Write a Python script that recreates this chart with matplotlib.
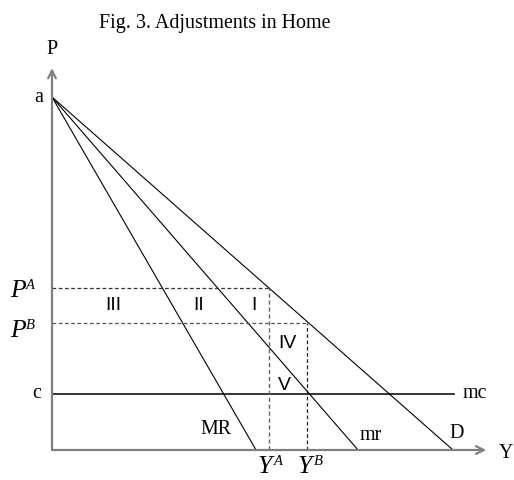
import matplotlib.pyplot as plt

plt.rcParams['font.family'] = 'Liberation Serif'

# valores del diagrama (unidades arbitrarias)
a = 10.0                 # ordenada al origen de la demanda
c = 1.6                  # costo marginal
x_MR, x_mr, x_D = 5.78, 8.67, 11.36   # cortes con el eje Y
P_A, P_B = 4.6, 3.6
Y_A, Y_B = 6.15, 7.22
x_max, y_max = 12.3, 10.82
mc_end = 11.4

escala = 35.3  # pixeles por unidad


def px(x, y):
    # pixeles de la imagen -> coordenadas del grafico
    return (x - 52) / escala, (450 - y) / escala


fig = plt.figure(figsize=(5.14, 4.80), dpi=100)
ax = fig.add_axes([0, 0, 1, 1])
ax.set_xlim(-52 / escala, (514 - 52) / escala)
ax.set_ylim(-30 / escala, 450 / escala)
ax.axis('off')

gris = '#808080'
# ejes
flecha = dict(arrowstyle='->', color=gris, lw=1.6, mutation_scale=14, shrinkA=0, shrinkB=0)
ax.annotate('', xy=(x_max, 0), xytext=(0, 0), arrowprops=flecha)
ax.annotate('', xy=(0, y_max), xytext=(0, 0), arrowprops=flecha)

# rectas desde a
for xi in (x_MR, x_mr, x_D):
    ax.plot([0, xi], [a, 0], color='black', lw=0.8)
ax.plot([0, mc_end], [c, c], color='black', lw=1.1)

# punteadas
ax.plot([0, Y_A], [P_A, P_A], color='#333333', lw=0.9, ls=(0, (3, 2)))
ax.plot([0, Y_B], [P_B, P_B], color='#555555', lw=0.9, ls=(0, (3, 2)))
ax.plot([Y_A, Y_A], [0, P_A], color='#666666', lw=1.0, ls=(0, (3, 2)))
ax.plot([Y_B, Y_B], [0, P_B], color='#222222', lw=0.9, ls=(0, (3, 2)))

fs = 14.4
ax.text(*px(215, 23), 'Fig. 3. Adjustments in Home', ha='center', va='center', fontsize=fs)
ax.text(*px(52, 50), 'P', ha='center', va='center', fontsize=fs)
ax.text(*px(39, 97), 'a', ha='center', va='center', fontsize=fs)
ax.text(*px(37, 394), 'c', ha='center', va='center', fontsize=fs)
ax.text(*px(506, 453), 'Y', ha='center', va='center', fontsize=fs)
ax.text(*px(475, 393), 'mc', ha='center', va='center', fontsize=fs)
ax.text(*px(216, 429), 'MR', ha='center', va='center', fontsize=fs)
ax.text(*px(371, 435), 'mr', ha='center', va='center', fontsize=fs)
ax.text(*px(457, 434), 'D', ha='center', va='center', fontsize=fs)


def etiqueta(x, y, base, sup):
    # letra en italica con superindice chico
    ax.text(*px(x, y), base, ha='left', va='baseline', fontsize=18.5, style='italic')
    ax.annotate(sup, xy=px(x, y), xytext=(11.6, 13.0), textcoords='offset points',
                ha='left', va='top', fontsize=10.5, style='italic')


etiqueta(10, 297, 'P', 'A')
etiqueta(10, 337, 'P', 'B')
etiqueta(258, 473, 'Y', 'A')
etiqueta(298, 473, 'Y', 'B')

# zonas
zonas = ['III', 'II', 'I', 'IV', 'V']
pos_zonas = [(113, 305), (199, 305), (254, 305), (287, 343), (284, 385)]
for z, (zx, zy) in zip(zonas, pos_zonas):
    ax.text(*px(zx, zy), z, ha='center', va='center', fontsize=14, family='Liberation Sans')

fig.savefig('out.png', dpi=100)
